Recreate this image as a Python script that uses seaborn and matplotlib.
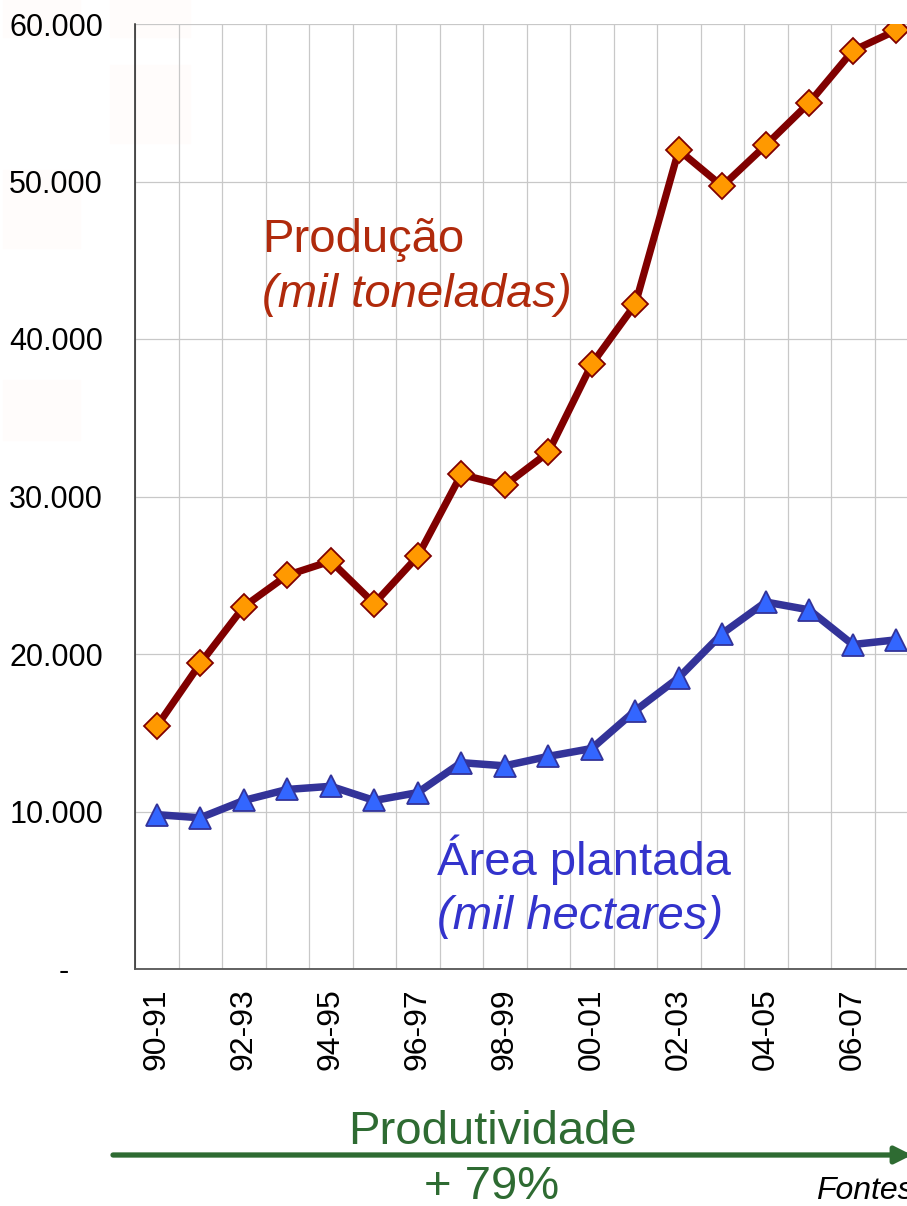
import numpy as np
import pandas as pd
import matplotlib
matplotlib.use('Agg')
import matplotlib.pyplot as plt
import seaborn as sns
from matplotlib.patches import Rectangle

# Dados (mil toneladas / mil hectares) por safra
safras = ["90-91", "91-92", "92-93", "93-94", "94-95", "95-96", "96-97", "97-98", "98-99",
          "99-00", "00-01", "01-02", "02-03", "03-04", "04-05", "05-06", "06-07", "07-08"]
producao = [15400, 19400, 23000, 25000, 25900, 23200, 26200, 31400, 30700,
            32800, 38400, 42200, 52000, 49700, 52300, 55000, 58300, 59600]
area = [9800, 9600, 10700, 11400, 11600, 10700, 11200, 13100, 12900,
        13500, 14000, 16400, 18500, 21300, 23300, 22800, 20600, 20900]
y_ticks = [0, 10000, 20000, 30000, 40000, 50000, 60000]
y_labels = ["-    ", "10.000", "20.000", "30.000", "40.000", "50.000", "60.000"]

df = pd.DataFrame({"idx": np.arange(len(safras)), "safra": safras,
                   "producao": producao, "area": area})

sns.set_style("white")
plt.rcParams['font.family'] = ['Liberation Sans', 'DejaVu Sans']

fig = plt.figure(figsize=(9.07, 12.06), dpi=100)

# manchas quase invisíveis do fundo original
for (x0, y0, w, h) in [(3, 0, 77, 37), (110, 0, 80, 37), (110, 65, 80, 78),
                       (3, 170, 77, 78), (3, 380, 77, 60)]:
    fig.patches.append(Rectangle((x0 / 907, 1 - (y0 + h) / 1206), w / 907, h / 1206,
                                 transform=fig.transFigure, color='#fffcfb', zorder=-5))

ax = fig.add_axes([135 / 907, 1 - 969 / 1206, 783 / 907, 945 / 1206])
ax.patch.set_alpha(0)

sns.lineplot(data=df, x="idx", y="producao", ax=ax, color="#800000", lw=5.2,
             marker="D", markersize=13, markerfacecolor="#ff9900",
             markeredgecolor="#800000", markeredgewidth=1.3, zorder=4)
sns.lineplot(data=df, x="idx", y="area", ax=ax, color="#333399", lw=5.4,
             marker="^", markersize=16, markerfacecolor="#3366ff",
             markeredgecolor="#333399", markeredgewidth=1.3, zorder=4)

ax.set_xlim(-0.5, len(safras) - 0.5)
ax.set_ylim(0, 60000)
ax.set_xlabel("")
ax.set_ylabel("")

ax.set_yticks(y_ticks)
ax.set_yticklabels(y_labels, fontsize=22)
ax.set_xticks(np.arange(0, len(safras), 2))
ax.set_xticklabels(safras[::2], rotation=90, fontsize=23)
ax.set_xticks(np.arange(-0.5, len(safras), 1), minor=True)

ax.tick_params(axis='x', which='major', length=0, pad=14, labelcolor='black')
ax.tick_params(axis='x', which='minor', length=6, width=1, color='#444444', direction='out')
ax.tick_params(axis='y', length=6, width=1, color='#222222', pad=17, direction='out',
               labelcolor='black')

ax.grid(axis='y', which='major', color='#c8c8c8', lw=0.9)
ax.grid(axis='x', which='minor', color='#c8c8c8', lw=0.9)
ax.set_axisbelow(True)

for s in ['top', 'right']:
    ax.spines[s].set_visible(False)
ax.spines['left'].set_color('#222222')
ax.spines['bottom'].set_color('#555555')
ax.spines['left'].set_linewidth(1.1)
ax.spines['bottom'].set_linewidth(1.3)

# rótulos das séries
fig.text(262 / 907, 1 - 252 / 1206, "Produção", color="#b02a0c", fontsize=34, va='baseline')
fig.text(262 / 907, 1 - 307 / 1206, "(mil toneladas)", color="#b02a0c", fontsize=34,
         style='italic', va='baseline')
fig.text(437 / 907, 1 - 875 / 1206, "Área plantada", color="#3333cc", fontsize=34, va='baseline')
fig.text(437 / 907, 1 - 929 / 1206, "(mil hectares)", color="#3333cc", fontsize=34,
         style='italic', va='baseline')

# produtividade
fig.text(492 / 907, 1 - 1144 / 1206, "Produtividade", color="#2e6b32", fontsize=34,
         ha='center', va='baseline')
fig.text(492 / 907, 1 - 1199 / 1206, "+ 79%", color="#2e6b32", fontsize=34,
         ha='center', va='baseline')
ax.annotate("", xy=(912 / 907, 1 - 1155 / 1206), xytext=(113 / 907, 1 - 1155 / 1206),
            xycoords='figure fraction', textcoords='figure fraction',
            arrowprops=dict(arrowstyle='-|>,head_length=1.0,head_width=0.5',
                            color="#2e6b32", lw=3.8, shrinkA=0, shrinkB=0))
fig.text(816 / 907, 1 - 1199 / 1206, "Fontes", color="black", fontsize=23,
         style='italic', va='baseline')

fig.savefig("out.png", dpi=100)
